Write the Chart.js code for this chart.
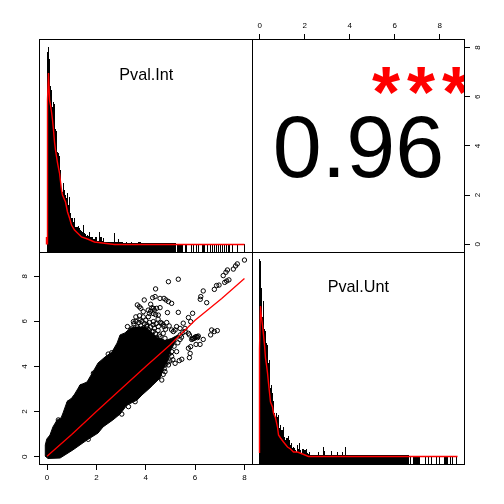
<!DOCTYPE html>
<html>
<head>
<meta charset="utf-8">
<style>
html,body{margin:0;padding:0;background:#fff;width:504px;height:504px;overflow:hidden}
canvas{position:absolute;left:0;top:0;pointer-events:none}
</style>
<script src="https://cdn.jsdelivr.net/npm/chart.js@4"></script>
</head>
<body>
<canvas id="tl" width="504" height="504"></canvas>
<canvas id="bl" width="504" height="504"></canvas>
<canvas id="tr" width="504" height="504"></canvas>
<canvas id="br" width="504" height="504"></canvas>
<script>
const variableNames = ["Pval.Int", "Pval.Unt"];
const correlationText = "0.96";
const significanceText = "***";
const blTickX = [0, 2, 4, 6, 8];
const blTickY = [0, 2, 4, 6, 8];

const histInt = [
200,205,193,
166,162,145,150,148,123,121,100,99,96,
82,63,60,69,62,57,54,59,47,55,
39,34,34,30,34,25,25,25,26,24,
22,21,20,27,19,18,16,17,16,20,
15,15,15,13,13,15,15,11,11,20,
15,15,11,14,10,10,10,10,10,10,
10,10,10,10,19,10,10,10,13,10,
10,10,10,9,9,9,10,9,9,9,
9,10,9,9,9,9,9,9,10,10,
10,9,9,9,9,9,9,9,9,9,
9,9,9,9,9,9,9,9,9,9,
9,9,9,9,9,9,9,9,9,9,
9,9,9,9,9,9,0,8,8,8,
8,8,8,0,0,8,8,0,0,0,
0,8,0,8,0,0,8,0,8,0,
0,0,8,8,8,0,0,8,0,0,
8,0,8,0,8,0,8,0,8,0,
8,0,8,0,8,0,8,0,8,8,
0,0,8,0,0,0,0,8,0,0,
0,0,0,0,8];

const histUnt = [
205,
203,176,147,163,135,133,121,119,101,104,
76,79,71,63,51,47,51,47,49,36,
39,34,34,37,27,24,26,26,28,24,
19,21,16,17,16,14,12,19,15,21,
14,11,15,15,14,14,15,11,10,12,
9,9,9,9,9,9,9,9,12,9,
9,9,9,17,13,9,9,9,9,9,
9,13,9,9,9,9,9,12,9,9,
9,9,12,9,9,17,9,9,9,9,
9,9,9,9,9,9,9,9,9,9,
9,9,9,9,9,9,9,9,9,9,
9,9,9,9,9,9,9,9,9,9,
9,9,9,9,9,9,9,9,9,9,
9,9,9,9,9,9,9,9,9,9,
9,9,9,9,9,9,9,9,9,0,
8,0,0,8,8,8,8,8,8,8,
0,0,0,0,0,8,0,0,8,0,
0,8,0,0,0,0,8,0,0,8,
0,0,0,0,8,8,8,8,0,0,
8,0,8,0,0,0,8];

const densIntX = [-1,-1,0,0,1,2,3,4,5,6,7,8,10,12,14,15,18,20,22,24,27,30,34,40,47,55,67,197];
const densIntY = [7.5,15,7.5,152,179,152,147,140,132,122,110,102,89,79,62,57,50,40,34,27,22,19,15,13,10,9,7.5,7.5];
const densUntX = [0,0,1,2,3,4,5,6,7,8,9,11,13,14,16,18,19,21,24,28,31,34,38,43,49,198];
const densUntY = [11,115,158,146,139,129,119,106,99,91,81,62,57,51,46,37,29,26,22,17,15,12,12,10,7.5,7.5];

const blobUpperX = [-0.08,-0.07,-0.01,0.12,0.24,0.41,0.57,0.65,0.81,1.05,1.34,1.62,1.86,2.07,2.35,2.63,2.84,2.96,3.16,3.37,3.57,3.98,4.26,4.50,4.78,5.06,5.31];
const blobUpperY = [0.03,0.52,0.78,0.96,1.32,1.63,1.72,1.94,2.43,2.65,3.18,3.31,3.76,4.16,4.42,4.64,5.04,5.40,5.49,5.70,5.75,5.75,5.50,5.25,5.15,5.25,5.40];
const blobLowerX = [-0.08,0.04,0.53,1.05,1.62,2.07,2.27,2.67,2.96,3.24,3.65,3.85,4.17,4.29,4.58,4.70,4.86,4.98,5.19,5.31];
const blobLowerY = [0.03,-0.08,-0.06,0.30,0.74,1.05,1.32,1.63,1.89,2.29,2.51,2.74,3.05,3.18,3.49,3.84,4.20,4.64,5.09,5.40];

const outlierX = [8.00,7.71,7.64,7.55,7.31,7.25,7.14,7.37,7.28,7.20,6.97,6.87,6.78,6.33,6.23,6.21,6.47,5.32,4.92,4.40,3.94,4.38,4.28,4.58,4.74,4.82,4.92,5.05,4.20,3.66,3.74,3.80,3.90,4.31,4.44,4.58,4.88,5.32,4.11,4.51,3.26,5.90,5.73,5.82,5.52,5.19,5.05,4.74,4.65,5.39,5.59,5.73,5.77,6.33,6.20,6.04,6.13,6.04,5.93,5.86,6.67,6.63,6.90,6.78,5.82,5.73,5.80,5.77,5.46,5.19,5.36,4.98,4.92,4.78,4.65,4.71,5.05,4.85,5.25,5.39,5.12,5.25,3.50,3.77,4.04,4.31,4.51,4.71,4.78,4.58,4.31,2.48,2.62,1.88,1.40,1.47,1.07,0.90,0.46,3.30,3.03,1.67,3.57,1.13,
3.52,3.60,3.66,3.72,3.80,3.85,3.90,3.95,4.00,4.05,4.10,4.15,4.20,4.25,4.30,4.35,4.40,4.42,4.50,4.55,3.45,3.55,3.70,3.85,4.00,4.15,4.30,4.45,4.60,4.10,4.20,4.30,4.40,4.35,4.25,4.15,4.50,4.60,4.70,4.80,4.85,4.95,3.60,3.75,3.90,
4.85,4.95,5.05,4.90,5.10,4.75,4.80,5.15,5.30,5.40,5.50,5.60,5.45,5.97,6.00,6.08,6.10,5.90];
const outlierY = [8.72,8.55,8.46,8.32,8.28,8.18,8.03,7.84,7.79,7.73,7.61,7.59,7.42,7.35,7.10,6.98,6.83,7.87,7.76,7.44,6.95,7.10,7.05,7.02,7.02,6.95,6.88,6.80,6.76,6.73,6.65,6.58,6.43,6.58,6.58,6.61,6.39,6.40,6.21,6.28,5.77,6.36,6.17,5.99,5.92,5.62,5.62,5.77,5.92,5.69,5.69,5.47,5.40,5.20,4.98,4.98,5.35,5.32,5.25,5.20,5.62,5.40,5.59,5.55,4.88,4.81,4.58,4.39,4.32,4.14,4.26,4.24,4.07,3.77,3.40,3.65,4.66,4.81,4.66,5.20,5.55,5.77,5.99,6.06,5.77,5.99,5.77,5.47,5.25,5.32,5.55,4.55,4.61,3.70,3.11,2.99,2.51,2.41,1.63,2.22,1.89,0.77,2.44,2.63,
5.90,6.00,5.75,5.95,5.80,6.00,5.70,5.90,6.05,5.85,5.65,5.95,5.75,5.55,5.85,5.70,5.45,5.90,5.60,5.40,5.70,5.55,5.50,5.55,5.50,5.45,5.30,5.25,5.15,6.50,6.45,6.35,6.30,6.50,6.60,6.35,6.10,5.95,5.85,5.65,5.95,5.80,6.20,6.25,6.20,
4.40,4.55,4.45,4.20,4.30,3.90,4.10,4.90,5.05,5.40,5.50,5.55,5.30,5.25,5.30,5.33,5.28,5.22];

const trendX = [0,1,2,3,4,4.98,6,7.08,8];
const trendY = [0.02,0.98,2.00,3.00,4.00,4.95,6.05,7.02,7.90];

const zip = (xs, ys) => xs.map((x, i) => ({x, y: ys[i]}));
const BLACK = "#000000";
const RED = "#ff0000";
const FONT = '"Liberation Sans", Arial, sans-serif';

const framePlugin = {
  id: "frame",
  afterDatasetsDraw(chart) {
    const a = chart.chartArea, c = chart.ctx;
    c.save();
    c.strokeStyle = BLACK;
    c.lineWidth = 1;
    c.strokeRect(a.left - 0.5, a.top - 0.5, a.right - a.left + 1, a.bottom - a.top + 1);
    c.restore();
  }
};

function panelText(label, cx, cy) {
  return {
    id: "panelText",
    afterDraw(chart) {
      const c = chart.ctx;
      c.save();
      c.fillStyle = BLACK;
      c.font = "16.2px " + FONT;
      c.textAlign = "center";
      c.textBaseline = "middle";
      c.fillText(label, cx, cy);
      c.restore();
    }
  };
}

const corrPlugin = {
  id: "corrText",
  afterDraw(chart) {
    const c = chart.ctx, a = chart.chartArea;
    c.save();
    c.beginPath();
    c.rect(a.left, a.top, a.right - a.left, a.bottom - a.top);
    c.clip();
    c.fillStyle = BLACK;
    c.font = "88px " + FONT;
    c.textAlign = "center";
    c.textBaseline = "alphabetic";
    c.fillText(correlationText, 358.5, 177);
    c.fillStyle = RED;
    c.textAlign = "left";
    c.font = "bold 72px " + FONT;
    c.letterSpacing = "7px";
    c.fillText(significanceText, 372, 117);
    c.restore();
  }
};

function axisScale(position, min, max, ticks, size, padding) {
  const horizontal = position === "top" || position === "bottom";
  return {
    type: "linear",
    position,
    min,
    max,
    offset: false,
    afterBuildTicks(s) { s.ticks = ticks.map(v => ({value: v})); },
    afterFit(s) { if (horizontal) s.height = size; else s.width = size; },
    border: {display: false},
    grid: {display: true, drawOnChartArea: false, drawTicks: true, tickLength: 6, color: BLACK, lineWidth: 1},
    ticks: {
      color: BLACK,
      font: {family: FONT, size: 8},
      padding,
      autoSkip: false,
      minRotation: horizontal ? 0 : 90,
      maxRotation: horizontal ? 0 : 90,
      crossAlign: horizontal ? "near" : "center",
      callback: v => String(v)
    }
  };
}

const hidden = (min, max) => ({type: "linear", display: false, min, max, offset: false});
const commonOptions = {
  responsive: false,
  animation: false,
  devicePixelRatio: 1,
  events: [],
  plugins: {legend: {display: false}, title: {display: false}, tooltip: {enabled: false}, filler: {propagate: false}}
};

function histChart(id, counts, densX, densY, area, xMin, xMax, label, lx, ly) {
  const bins = counts.map((v, i) => ({x: i, y: v}));
  new Chart(document.getElementById(id), {
    type: "bar",
    data: {datasets: [
      {type: "line", data: zip(densX, densY), borderColor: RED, borderWidth: 1.4, pointRadius: 0, tension: 0, fill: false, clip: false},
      {type: "bar", data: bins, backgroundColor: BLACK, borderWidth: 0, barPercentage: 1, categoryPercentage: 1, inflateAmount: 0}
    ]},
    options: {
      ...commonOptions,
      layout: {padding: area},
      scales: {x: hidden(xMin, xMax), y: hidden(0, 504 - area.top - area.bottom)}
    },
    plugins: [framePlugin, panelText(label, lx, ly)]
  });
}

histChart("tl", histInt, densIntX, densIntY, {left: 40, right: 252, top: 40, bottom: 252}, -7.5, 204.5, variableNames[0], 146.3, 76);
histChart("br", histUnt, densUntX, densUntY, {left: 253, right: 40, top: 253, bottom: 40}, -6.5, 204.5, variableNames[1], 358.3, 288);

new Chart(document.getElementById("bl"), {
  type: "scatter",
  data: {datasets: [
    {type: "line", data: zip(trendX, trendY), borderColor: RED, borderWidth: 1.3, pointRadius: 0, tension: 0, fill: false},
    {type: "scatter", data: zip(outlierX, outlierY), showLine: false, pointRadius: 2.2, pointBorderWidth: 1, pointBorderColor: BLACK, pointBackgroundColor: "rgba(0,0,0,0)"},
    {type: "line", data: zip(blobUpperX, blobUpperY), borderColor: BLACK, borderWidth: 1, backgroundColor: BLACK, pointRadius: 0, tension: 0, fill: "+1"},
    {type: "line", data: zip(blobLowerX, blobLowerY), borderColor: BLACK, borderWidth: 1, pointRadius: 0, tension: 0, fill: false}
  ]},
  options: {
    ...commonOptions,
    layout: {padding: {left: 0, right: 252, top: 253, bottom: 0}},
    scales: {
      x: axisScale("bottom", -0.284, 8.306, blTickX, 40, 3),
      y: axisScale("left", -0.324, 9.033, blTickY, 40, 7)
    }
  },
  plugins: [framePlugin]
});

new Chart(document.getElementById("tr"), {
  type: "scatter",
  data: {datasets: [{data: [], showLine: false}]},
  options: {
    ...commonOptions,
    layout: {padding: {left: 253, right: 0, top: 0, bottom: 252}},
    scales: {
      x: axisScale("top", -0.298, 9.08, blTickX, 40, 3),
      y: axisScale("right", -0.313, 8.305, blTickY, 40, 6)
    }
  },
  plugins: [framePlugin, corrPlugin]
});
</script>
</body>
</html>
